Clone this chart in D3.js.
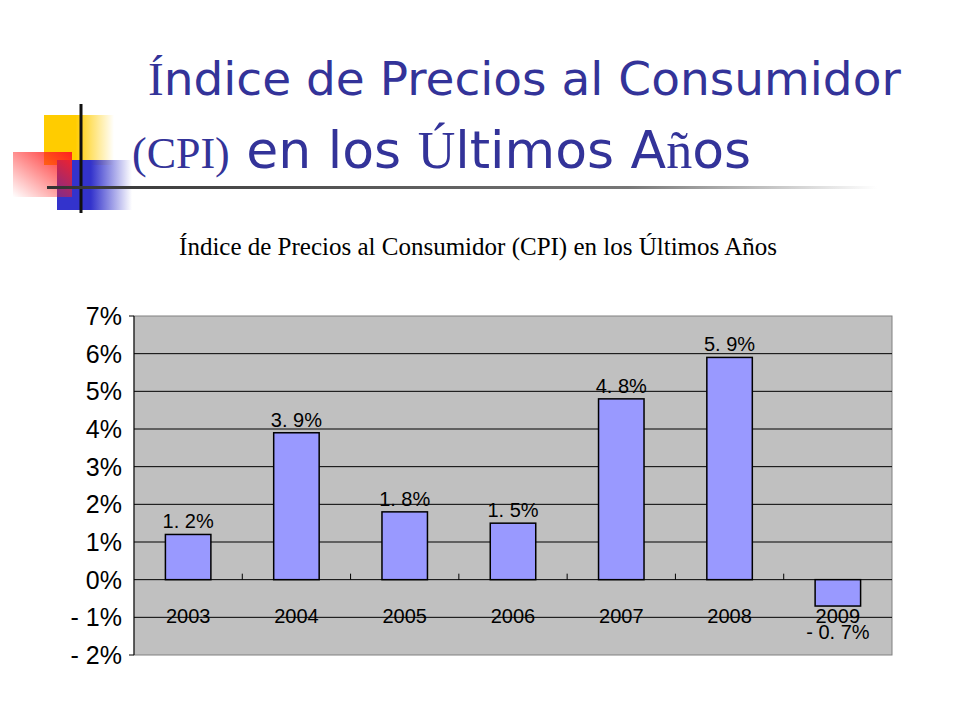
<!DOCTYPE html>
<html><head><meta charset="utf-8">
<script src="https://cdn.jsdelivr.net/npm/d3@7"></script>
<style>body{margin:0;background:#fff}</style>
</head><body>
<svg id="c" width="960" height="720"></svg>
<script>
const years = ["2003","2004","2005","2006","2007","2008","2009"];
const cpi = [1.2, 3.9, 1.8, 1.5, 4.8, 5.9, -0.7];
const valueLabels = ["1. 2%","3. 9%","1. 8%","1. 5%","4. 8%","5. 9%","- 0. 7%"];
const yTicks = [7,6,5,4,3,2,1,0,-1,-2];
const yTickLabels = ["7%","6%","5%","4%","3%","2%","1%","0%","- 1%","- 2%"];

const svg = d3.select("#c");
const defs = svg.append("defs");
function grad(id, color) {
  const g = defs.append("linearGradient").attr("id", id);
  g.append("stop").attr("offset", "0%").attr("stop-color", color).attr("stop-opacity", 1);
  g.append("stop").attr("offset", "45%").attr("stop-color", color).attr("stop-opacity", 1);
  g.append("stop").attr("offset", "100%").attr("stop-color", color).attr("stop-opacity", 0);
}
grad("gy", "#ffcc00");
grad("gb", "#3333cc");
const gr = defs.append("linearGradient").attr("id", "gr").attr("x1", 1).attr("y1", 0).attr("x2", 0).attr("y2", 1);
gr.append("stop").attr("offset", "0%").attr("stop-color", "#ff2020");
gr.append("stop").attr("offset", "100%").attr("stop-color", "#ff2020").attr("stop-opacity", 0);
const gl = defs.append("linearGradient").attr("id", "gl");
gl.append("stop").attr("offset", "0%").attr("stop-color", "#333");
gl.append("stop").attr("offset", "70%").attr("stop-color", "#777");
gl.append("stop").attr("offset", "100%").attr("stop-color", "#fff");

// decoration
svg.append("rect").attr("x", 44).attr("y", 115).attr("width", 70).attr("height", 50).attr("fill", "url(#gy)");
svg.append("rect").attr("x", 57).attr("y", 160).attr("width", 75).attr("height", 50).attr("fill", "url(#gb)");
svg.append("rect").attr("x", 13).attr("y", 152).attr("width", 59).attr("height", 45).attr("fill", "url(#gr)");
svg.append("line").attr("x1", 81).attr("x2", 81).attr("y1", 104).attr("y2", 213).attr("stroke", "#111").attr("stroke-width", 3);
svg.append("rect").attr("x", 47).attr("y", 186).attr("width", 830).attr("height", 3).attr("fill", "url(#gl)");

// title
const t = svg.append("g").attr("fill", "#333399").attr("font-family", "'DejaVu Sans', sans-serif");
t.append("text").attr("x", 148).attr("y", 95).attr("font-size", 47)
  .html('<tspan font-family="Liberation Serif, serif">Í</tspan>ndice de Precios al Consumidor');
t.append("text").attr("x", 132).attr("y", 168).attr("font-size", 52)
  .html('<tspan font-family="Liberation Serif, serif" font-size="44">(CPI)</tspan> en los <tspan font-family="Liberation Serif, serif">Ú</tspan>ltimos A<tspan font-family="Liberation Serif, serif">ñ</tspan>os');

svg.append("text").attr("x", 478).attr("y", 255).attr("text-anchor", "middle")
  .attr("font-family", "Liberation Serif, serif").attr("font-size", 25)
  .text("Índice de Precios al Consumidor (CPI) en los Últimos Años");

// chart
const L = 134, R = 892, T = 316, B = 655;
const x = d3.scaleBand().domain(years).range([L, R]).paddingInner(0.58).paddingOuter(0.29);
const y = d3.scaleLinear().domain([-2, 7]).range([B, T]);

svg.append("rect").attr("x", L).attr("y", T).attr("width", R - L).attr("height", B - T)
  .attr("fill", "#c0c0c0").attr("stroke", "#808080");
svg.append("g").selectAll("line").data(yTicks.filter(d => d > -2 && d < 7)).join("line")
  .attr("x1", L).attr("x2", R).attr("y1", d => y(d)).attr("y2", d => y(d)).attr("stroke", "#000").attr("stroke-width", 1);
svg.append("line").attr("x1", L).attr("x2", L).attr("y1", T).attr("y2", B).attr("stroke", "#000");
svg.append("line").attr("x1", L - 5).attr("x2", L).attr("y1", T).attr("y2", T).attr("stroke", "#000");
svg.append("line").attr("x1", L - 5).attr("x2", L).attr("y1", B).attr("y2", B).attr("stroke", "#000");

const step = (R - L) / years.length;
svg.append("g").selectAll("line").data(d3.range(1, years.length)).join("line")
  .attr("x1", i => L + i * step).attr("x2", i => L + i * step)
  .attr("y1", y(0) - 6).attr("y2", y(0)).attr("stroke", "#000");

svg.append("g").selectAll("text").data(yTicks).join("text")
  .attr("x", 122).attr("y", d => y(d) + 9).attr("text-anchor", "end")
  .attr("font-family", "Arial, 'Liberation Sans', sans-serif").attr("font-size", 25)
  .text((d, i) => yTickLabels[i]);

svg.append("g").selectAll("rect").data(cpi).join("rect")
  .attr("x", (d, i) => x(years[i])).attr("width", x.bandwidth())
  .attr("y", d => y(Math.max(0, d))).attr("height", d => Math.abs(y(d) - y(0)))
  .attr("fill", "#9999ff").attr("stroke", "#000").attr("stroke-width", 1.5);

const font = "Arial, 'Liberation Sans', sans-serif";
svg.append("g").selectAll("text").data(years).join("text")
  .attr("x", d => x(d) + x.bandwidth() / 2).attr("y", y(0) + 43).attr("text-anchor", "middle")
  .attr("font-family", font).attr("font-size", 20).text(d => d);
svg.append("g").selectAll("text").data(cpi).join("text")
  .attr("x", (d, i) => x(years[i]) + x.bandwidth() / 2)
  .attr("y", d => d >= 0 ? y(d) - 6 : y(d) + 33).attr("text-anchor", "middle")
  .attr("font-family", font).attr("font-size", 20).text((d, i) => valueLabels[i]);
</script>
</body></html>
